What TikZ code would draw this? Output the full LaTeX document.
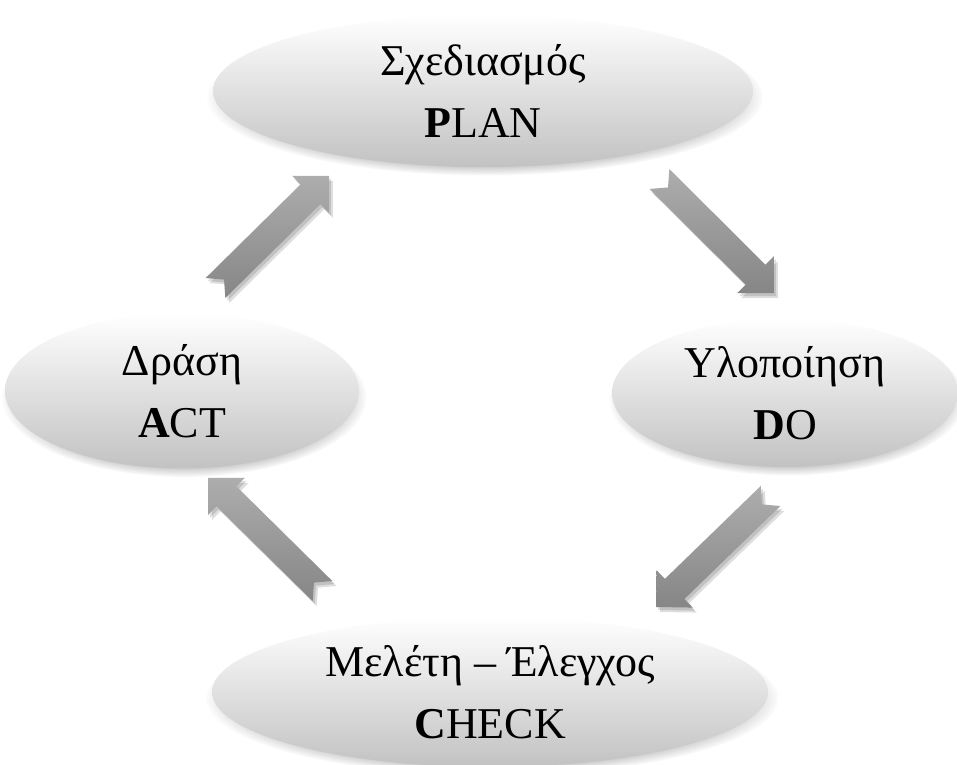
\documentclass[tikz,border=0pt]{standalone}
\usepackage{fontspec}
\setmainfont{Liberation Serif}
\usetikzlibrary{calc,shapes.geometric,shadows,fadings}
\definecolor{arrtop}{HTML}{ADADAD}
\definecolor{arrbot}{HTML}{868686}
\definecolor{elbot}{HTML}{C2C2C2}
\tikzset{
  phase/.style={ellipse, inner sep=0pt, align=center,
    font=\fontsize{44}{62}\selectfont,
    top color=white, middle color=gray!8, bottom color=elbot,
    circular drop shadow={shadow scale=1.03, shadow xshift=2pt, shadow yshift=-6pt, opacity=0.45, fill=black!55}},
  arrowfill/.style={top color=arrtop, bottom color=arrbot},
  arrowshade/.style={fill=black, opacity=0.13}
}
\newcommand{\pdcaarrowpath}[2]{%
  ($(#1)!14pt!90:(#2)$) -- ($(#1)!12pt!(#2)$) -- ($(#1)!14pt!-90:(#2)$) --
  ($($(#2)!26pt!(#1)$)!14pt!-90:(#2)$) -- ($($(#2)!26pt!(#1)$)!26pt!-90:(#2)$) --
  (#2) --
  ($($(#2)!26pt!(#1)$)!26pt!90:(#2)$) -- ($($(#2)!26pt!(#1)$)!14pt!90:(#2)$) -- cycle}
\newcommand{\pdcaarrow}[2]{%
  \path[arrowshade, transform canvas={shift={(2pt,-3pt)}}] \pdcaarrowpath{#1}{#2};
  \path[arrowshade, transform canvas={shift={(4pt,-5pt)}}] \pdcaarrowpath{#1}{#2};
  \path[arrowfill] \pdcaarrowpath{#1}{#2};}
\begin{document}
\begin{tikzpicture}[x=1pt,y=1pt]
\useasboundingbox (0,0) rectangle (957,764);
\fill[white] (0,0) rectangle (957,764);

\node[phase, minimum width=540pt, minimum height=152pt] (plan) at (483,673)
  {Σχεδιασμός\\\textbf{P}LAN};
\node[phase, minimum width=346pt, minimum height=148pt] (do) at (785,371)
  {Υλοποίηση\\\textbf{D}O};
\node[phase, minimum width=354pt, minimum height=155pt] (act) at (182,373)
  {Δράση\\\textbf{A}CT};
\node[phase, minimum width=556pt, minimum height=150pt] (check) at (490,72)
  {Μελέτη – Έλεγχος\\\textbf{C}HECK};

\coordinate (a1t) at (215.5,476); \coordinate (a1h) at (329,588);
\coordinate (a2t) at (659.5,585); \coordinate (a2h) at (774,471);
\coordinate (a3t) at (770.5,268); \coordinate (a3h) at (656,157);
\coordinate (a4t) at (322.5,173); \coordinate (a4h) at (208,286);

\pdcaarrow{a1t}{a1h}
\pdcaarrow{a2t}{a2h}
\pdcaarrow{a3t}{a3h}
\pdcaarrow{a4t}{a4h}
\end{tikzpicture}
\end{document}
